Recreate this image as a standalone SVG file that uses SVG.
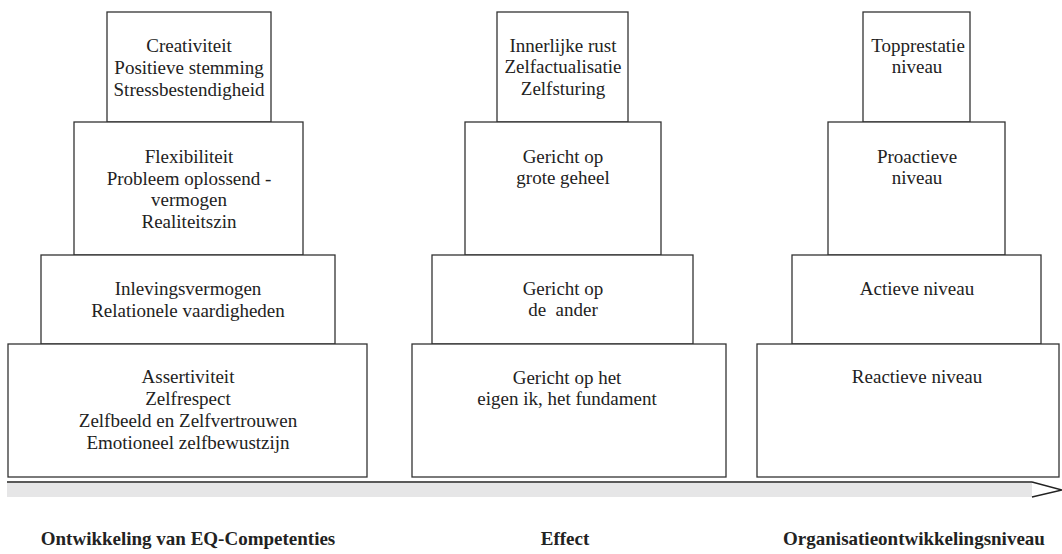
<svg xmlns="http://www.w3.org/2000/svg" width="1062" height="554" viewBox="0 0 1062 554" font-family="Liberation Serif, Times New Roman, serif">
<style>
.box{fill:#fff;stroke:#333;stroke-width:1.3}
.t{font-size:19px;fill:#222;text-anchor:middle}
.lbl{font-size:19px;font-weight:bold;fill:#222;text-anchor:middle}
</style>
<rect width="1062" height="554" fill="#fff"/>
<g id="c1-top"><rect class="box" x="107" y="12" width="164" height="110"/>
<text class="t" x="189" y="52">Creativiteit</text><text class="t" x="189" y="74">Positieve stemming</text><text class="t" x="189" y="96">Stressbestendigheid</text></g>
<g id="c1-2"><rect class="box" x="74" y="122" width="229" height="133"/>
<text class="t" x="189" y="163">Flexibiliteit</text><text class="t" x="189" y="185">Probleem oplossend -</text><text class="t" x="189" y="206">vermogen</text><text class="t" x="189" y="228">Realiteitszin</text></g>
<g id="c1-3"><rect class="box" x="41" y="255" width="294" height="89"/>
<text class="t" x="188" y="295">Inlevingsvermogen</text><text class="t" x="188" y="317">Relationele vaardigheden</text></g>
<g id="c1-4"><rect class="box" x="8" y="344" width="359" height="133"/>
<text class="t" x="188" y="383">Assertiviteit</text><text class="t" x="188" y="405">Zelfrespect</text><text class="t" x="188" y="427">Zelfbeeld en Zelfvertrouwen</text><text class="t" x="188" y="449">Emotioneel zelfbewustzijn</text></g>
<g id="c2-top"><rect class="box" x="497" y="12" width="131" height="110"/>
<text class="t" x="563" y="52">Innerlijke rust</text><text class="t" x="563" y="73">Zelfactualisatie</text><text class="t" x="563" y="95">Zelfsturing</text></g>
<g id="c2-2"><rect class="box" x="465" y="122" width="196" height="133"/>
<text class="t" x="563" y="163">Gericht op</text><text class="t" x="563" y="184">grote geheel</text></g>
<g id="c2-3"><rect class="box" x="432" y="255" width="261" height="89"/>
<text class="t" x="563" y="295">Gericht op</text><text class="t" x="563" y="316" xml:space="preserve">de  ander</text></g>
<g id="c2-4"><rect class="box" x="412" y="344" width="314" height="133"/>
<text class="t" x="567" y="384">Gericht op het</text><text class="t" x="567" y="405">eigen ik, het fundament</text></g>
<g id="c3-top"><rect class="box" x="863" y="12" width="107" height="110"/>
<text class="t" x="918" y="52">Topprestatie</text><text class="t" x="917" y="73">niveau</text></g>
<g id="c3-2"><rect class="box" x="828" y="122" width="177" height="133"/>
<text class="t" x="917" y="163">Proactieve</text><text class="t" x="917" y="184">niveau</text></g>
<g id="c3-3"><rect class="box" x="792" y="255" width="249" height="89"/>
<text class="t" x="917" y="295">Actieve niveau</text></g>
<g id="c3-4"><rect class="box" x="757" y="344" width="302" height="133"/>
<text class="t" x="917" y="383">Reactieve niveau</text></g>
<g id="connectors">
<rect x="7" y="483" width="1025" height="14" fill="#e6e6e7"/>
<line x1="7" y1="482" x2="1032" y2="482" stroke="#222" stroke-width="1.3"/>
<polyline points="1032,482 1062,490 1032,497" fill="none" stroke="#222" stroke-width="1.3"/>
</g>
<g id="labels">
<text class="lbl" x="188" y="545">Ontwikkeling van EQ-Competenties</text>
<text class="lbl" x="565" y="545">Effect</text>
<text class="lbl" x="914" y="545">Organisatieontwikkelingsniveau</text>
</g>
</svg>
